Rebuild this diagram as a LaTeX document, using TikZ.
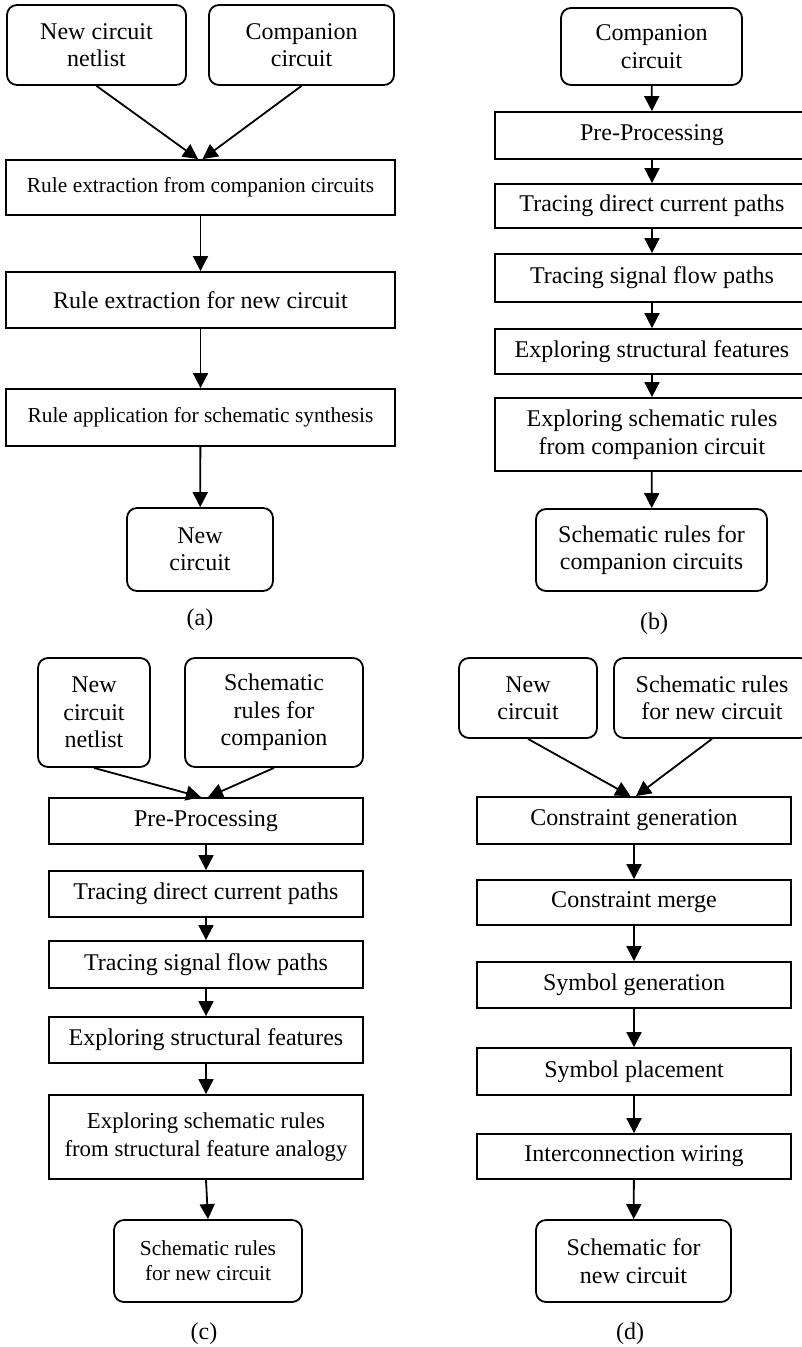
\documentclass[tikz,border=0pt]{standalone}
\usepackage{fontspec}
\setmainfont{Liberation Serif}
\usetikzlibrary{arrows.meta,positioning}
\tikzset{
  % process step: plain rectangle
  stepbox/.style={rectangle, draw=black, line width=1.8pt, inner sep=0pt,
                  align=center, font=\fontsize{24}{27.5}\selectfont},
  % start / end: rounded rectangle
  termbox/.style={rectangle, rounded corners=10pt, draw=black, line width=1.8pt, inner sep=0pt,
                  align=center, font=\fontsize{24}{27.5}\selectfont},
  % smaller text inside a box
  smalltext/.style={font=\fontsize{21.4}{25}\selectfont},
  % flow arrow
  flow/.style={-{Triangle[length=15pt,width=15pt]}, line width=1.8pt},
  % sub-figure caption
  subcap/.style={font=\fontsize{24}{27.5}\selectfont},
}

\begin{document}
\begin{tikzpicture}[x=1pt, y=-1pt]
  \clip (0,0) rectangle (802,1347);
  \useasboundingbox (0,0) rectangle (802,1347);

  % ═══════ PANEL (a) ═══════
  \node[termbox, minimum width=179pt, minimum height=80pt] (anet) at (96.5,45) {New circuit\\netlist};
  \node[termbox, minimum width=185pt, minimum height=80pt] (acomp) at (301.5,45) {Companion\\circuit};
  \node[stepbox, smalltext, minimum width=389pt, minimum height=55pt] (aext1) at (200.5,187.5)
    {Rule extraction from companion circuits};
  \node[stepbox, minimum width=389pt, minimum height=56pt] (aext2) at (200.5,300)
    {Rule extraction for new circuit};
  \node[stepbox, smalltext, minimum width=389pt, minimum height=57pt] (aapp) at (200.5,417.5)
    {Rule application for schematic synthesis};
  \node[termbox, minimum width=146pt, minimum height=83pt] (anew) at (200,549.5) {New\\circuit};
  \node[subcap] (acap) at (200,620) {(a)};

  \draw[flow] (anet.south) -- ([xshift=-2.5pt]aext1.north);
  \draw[flow] (acomp.south) -- ([xshift=2pt]aext1.north);
  \draw[flow] (aext1) -- (aext2);
  \draw[flow] (aext2) -- (aapp);
  \draw[flow] (aapp) -- (anew);

  % ═══════ PANEL (b) ═══════
  \node[termbox, minimum width=181pt, minimum height=77pt] (bcomp) at (651.5,46.5) {Companion\\circuit};
  \node[stepbox, minimum width=314pt, minimum height=47pt] (bpre) at (652,135.5) {Pre-Processing};
  \node[stepbox, minimum width=314pt, minimum height=44pt] (bdc) at (652,206) {Tracing direct current paths};
  \node[stepbox, minimum width=314pt, minimum height=48pt] (bsig) at (652,278) {Tracing signal flow paths};
  \node[stepbox, minimum width=314pt, minimum height=45pt] (bstr) at (652,351.5) {Exploring structural features};
  \node[stepbox, minimum width=314pt, minimum height=73pt] (brul) at (652,434.5)
    {Exploring schematic rules\\from companion circuit};
  \node[termbox, minimum width=231pt, minimum height=82pt] (bout) at (651.5,550)
    {Schematic rules for\\companion circuits};
  \node[subcap] (bcap) at (654,624) {(b)};

  \draw[flow] (bcomp) -- (bpre);
  \draw[flow] (bpre) -- (bdc);
  \draw[flow] (bdc) -- (bsig);
  \draw[flow] (bsig) -- (bstr);
  \draw[flow] (bstr) -- (brul);
  \draw[flow] (brul) -- (bout);

  % ═══════ PANEL (c) ═══════
  \node[termbox, minimum width=112pt, minimum height=109pt] (cnet) at (94,712.5) {New\\circuit\\netlist};
  \node[termbox, minimum width=178pt, minimum height=109pt] (crul) at (274,712.5) {Schematic\\rules for\\companion};
  \node[stepbox, minimum width=314pt, minimum height=46pt] (cpre) at (206,821) {Pre-Processing};
  \node[stepbox, minimum width=314pt, minimum height=46pt] (cdc) at (206,894) {Tracing direct current paths};
  \node[stepbox, minimum width=314pt, minimum height=47pt] (csig) at (206,964.5) {Tracing signal flow paths};
  \node[stepbox, minimum width=314pt, minimum height=46pt] (cstr) at (206,1040) {Exploring structural features};
  \node[stepbox, font=\fontsize{22.8}{27.5}\selectfont, minimum width=314pt, minimum height=84pt] (cexp) at (206,1137)
    {Exploring schematic rules\\from structural feature analogy};
  \node[termbox, smalltext, minimum width=188pt, minimum height=82pt] (cout) at (208,1261)
    {Schematic rules\\for new circuit};
  \node[subcap] (ccap) at (204,1334) {(c)};

  \draw[flow] (cnet.south) -- ([xshift=-5pt]cpre.north);
  \draw[flow] (crul.south) -- ([xshift=2pt]cpre.north);
  \draw[flow] (cpre) -- (cdc);
  \draw[flow] (cdc) -- (csig);
  \draw[flow] (csig) -- (cstr);
  \draw[flow] (cstr) -- (cexp);
  \draw[flow] (cexp.south) -- (cout.north);

  % ═══════ PANEL (d) ═══════
  \node[termbox, minimum width=138pt, minimum height=80pt] (dnew) at (528,698) {New\\circuit};
  \node[termbox, minimum width=196pt, minimum height=80pt] (drul) at (712,698)
    {Schematic rules\\for new circuit};
  \node[stepbox, minimum width=314pt, minimum height=47pt] (dgen) at (634,820.5) {Constraint generation};
  \node[stepbox, minimum width=314pt, minimum height=45pt] (dmrg) at (634,902.5) {Constraint merge};
  \node[stepbox, minimum width=314pt, minimum height=46pt] (dsym) at (634,985) {Symbol generation};
  \node[stepbox, minimum width=314pt, minimum height=47pt] (dplc) at (634,1071.5) {Symbol placement};
  \node[stepbox, minimum width=314pt, minimum height=45pt] (dwir) at (634,1156.5) {Interconnection wiring};
  \node[termbox, minimum width=195pt, minimum height=82pt] (dout) at (633.5,1261)
    {Schematic for\\new circuit};
  \node[subcap] (dcap) at (630,1334) {(d)};

  \draw[flow] (dnew.south) -- ([xshift=-3.5pt]dgen.north);
  \draw[flow] (drul.south) -- ([xshift=2pt]dgen.north);
  \draw[flow] (dgen) -- (dmrg);
  \draw[flow] (dmrg) -- (dsym);
  \draw[flow] (dsym) -- (dplc);
  \draw[flow] (dplc) -- (dwir);
  \draw[flow] (dwir) -- (dout);

\end{tikzpicture}
\end{document}
